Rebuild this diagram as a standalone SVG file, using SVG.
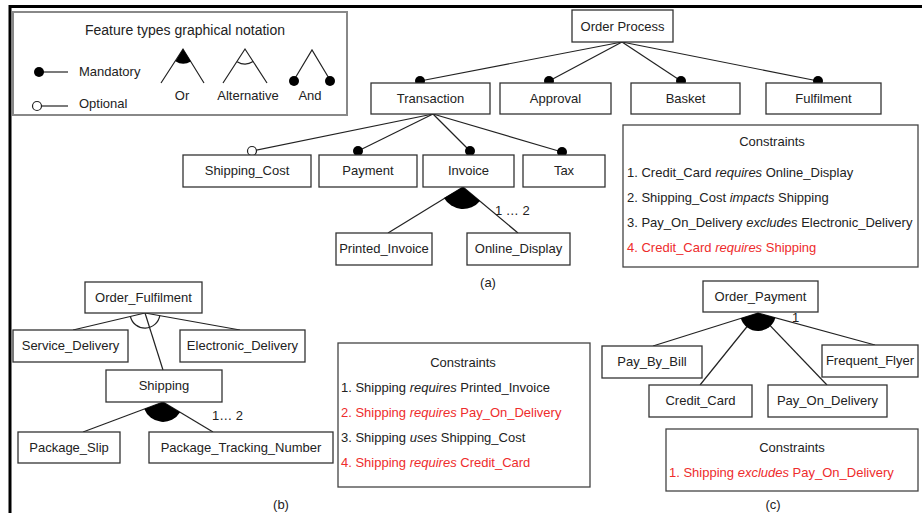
<svg xmlns="http://www.w3.org/2000/svg" width="922" height="513" viewBox="0 0 922 513">
<style>
text{font-family:"Liberation Sans",Arial,sans-serif;font-size:13px;fill:#222}
.c{text-anchor:middle}
.box{fill:#fff;stroke:#333;stroke-width:1.3}
.cbox{fill:#fff;stroke:#444;stroke-width:1.3}
.ln{stroke:#222;stroke-width:1.2;fill:none}
.dot{fill:#000}
.odot{fill:#fff;stroke:#222;stroke-width:1.2}
.red{fill:#ee2c2c}
.it{font-style:italic}
.frame{stroke:#000;stroke-width:3;fill:none}
</style>
<rect width="922" height="513" fill="#fff"/>
<path class="frame" d="M10,513 V6.5 H922"/>

<g id="legend">
<rect x="13" y="12" width="334" height="103" fill="#fff" stroke="#888" stroke-width="2"/>
<text class="c" x="185" y="35" style="font-size:14px">Feature types graphical notation</text>
<line class="ln" x1="39" y1="72" x2="68" y2="72"/>
<circle class="dot" cx="39" cy="72" r="5"/>
<text x="79" y="76">Mandatory</text>
<line class="ln" x1="42" y1="106" x2="68" y2="106"/>
<circle class="odot" cx="37" cy="106" r="4.5"/>
<text x="79" y="108">Optional</text>
<path class="ln" d="M161,83 L183,49 L204,83"/>
<path class="dot" d="M183,49 L175.4,61.3 A14.5,14.5 0 0,0 190.9,61.4 Z"/>
<text class="c" x="182" y="100">Or</text>
<path class="ln" d="M223,83 L245,49 L267,83"/>
<path class="ln" d="M237.1,61.7 A15,15 0 0,0 253.1,61.6"/>
<text class="c" x="248" y="100">Alternative</text>
<path class="ln" d="M294,80 L312,50 L330,80"/>
<circle class="dot" cx="294" cy="81" r="5"/>
<circle class="dot" cx="330" cy="81" r="5"/>
<text class="c" x="310" y="100">And</text>
</g>

<g id="connectors">
<!-- (a) -->
<line class="ln" x1="622" y1="42" x2="420" y2="81"/>
<line class="ln" x1="622" y1="42" x2="549" y2="81"/>
<line class="ln" x1="622" y1="42" x2="681" y2="81"/>
<line class="ln" x1="622" y1="42" x2="818" y2="81"/>
<line class="ln" x1="433" y1="114" x2="252" y2="151"/>
<line class="ln" x1="433" y1="114" x2="358" y2="151"/>
<line class="ln" x1="433" y1="114" x2="470" y2="151"/>
<line class="ln" x1="433" y1="114" x2="562" y2="152"/>
<line class="ln" x1="463" y1="187" x2="388" y2="233"/>
<line class="ln" x1="463" y1="187" x2="518" y2="233"/>
<path class="dot" d="M463,187 L444,198.1 A22,22 0 0,0 480,200.9 Z"/>
<!-- (b) -->
<line class="ln" x1="145" y1="313" x2="73" y2="330"/>
<line class="ln" x1="145" y1="313" x2="240" y2="330"/>
<line class="ln" x1="145" y1="313" x2="163" y2="370"/>
<path class="ln" d="M130.4,316.5 A15,15 0 0,0 159.8,315.6"/>
<line class="ln" x1="163" y1="402" x2="83" y2="432"/>
<line class="ln" x1="163" y1="402" x2="213" y2="432"/>
<path class="dot" d="M163,402 L144.3,409 A20,20 0 0,0 180.1,412.3 Z"/>
<!-- (c) -->
<line class="ln" x1="758" y1="313" x2="653" y2="346"/>
<line class="ln" x1="758" y1="313" x2="700" y2="385"/>
<line class="ln" x1="758" y1="313" x2="827" y2="385"/>
<line class="ln" x1="758" y1="313" x2="875" y2="345"/>
<path class="dot" d="M758,313 L740.8,318.2 A18,18 0 0,0 775.4,317.8 Z"/>
<!-- dots -->
<circle class="dot" cx="420" cy="81" r="5"/>
<circle class="dot" cx="549" cy="81" r="5"/>
<circle class="dot" cx="681" cy="81" r="5"/>
<circle class="dot" cx="818" cy="81" r="5"/>
<circle class="odot" cx="252" cy="151" r="4.5"/>
<circle class="dot" cx="358" cy="151" r="5"/>
<circle class="dot" cx="470" cy="151" r="5"/>
<circle class="dot" cx="562" cy="152" r="5"/>
</g>

<g id="order_process"><rect class="box" x="572" y="10" width="101" height="32"/><text class="c" x="622.5" y="31">Order Process</text></g>
<g id="transaction"><rect class="box" x="371" y="83" width="119" height="31"/><text class="c" x="430.5" y="103">Transaction</text></g>
<g id="approval"><rect class="box" x="500" y="83" width="111" height="31"/><text class="c" x="555.5" y="103">Approval</text></g>
<g id="basket"><rect class="box" x="631" y="83" width="109" height="31"/><text class="c" x="685.5" y="103">Basket</text></g>
<g id="fulfilment"><rect class="box" x="766" y="83" width="115" height="31"/><text class="c" x="823.5" y="103">Fulfilment</text></g>
<g id="shipping_cost"><rect class="box" x="183" y="155" width="128" height="32"/><text class="c" x="247" y="175">Shipping_Cost</text></g>
<g id="payment"><rect class="box" x="319" y="155" width="98" height="32"/><text class="c" x="368" y="175">Payment</text></g>
<g id="invoice"><rect class="box" x="423" y="155" width="91" height="32"/><text class="c" x="468.5" y="175">Invoice</text></g>
<g id="tax"><rect class="box" x="523" y="155" width="82" height="32"/><text class="c" x="564" y="175">Tax</text></g>
<g id="printed_invoice"><rect class="box" x="336" y="233" width="96" height="32"/><text class="c" x="384" y="253">Printed_Invoice</text></g>
<g id="online_display"><rect class="box" x="467" y="233" width="103" height="32"/><text class="c" x="518.5" y="253">Online_Display</text></g>
<text x="495" y="215">1 … 2</text>
<text class="c" x="488" y="287">(a)</text>

<g id="constraints_a">
<rect class="cbox" x="623" y="125" width="295" height="142"/>
<text class="c" x="772" y="146">Constraints</text>
<text x="627" y="177">1. Credit_Card <tspan class="it">requires</tspan> Online_Display</text>
<text x="627" y="202">2. Shipping_Cost <tspan class="it">impacts</tspan> Shipping</text>
<text x="627" y="227">3. Pay_On_Delivery <tspan class="it">excludes</tspan> Electronic_Delivery</text>
<text class="red" x="627" y="252">4. Credit_Card <tspan class="it">requires</tspan> Shipping</text>
</g>

<g id="order_fulfilment"><rect class="box" x="85" y="282" width="117" height="31"/><text class="c" x="143.5" y="302">Order_Fulfilment</text></g>
<g id="service_delivery"><rect class="box" x="13" y="330" width="115" height="32"/><text class="c" x="70.5" y="350">Service_Delivery</text></g>
<g id="electronic_delivery"><rect class="box" x="180" y="330" width="125" height="32"/><text class="c" x="242.5" y="350">Electronic_Delivery</text></g>
<g id="shipping"><rect class="box" x="106" y="370" width="116" height="32"/><text class="c" x="164" y="390">Shipping</text></g>
<g id="package_slip"><rect class="box" x="18" y="432" width="102" height="31"/><text class="c" x="69" y="452">Package_Slip</text></g>
<g id="package_tracking_number"><rect class="box" x="149" y="432" width="184" height="31"/><text class="c" x="241" y="452">Package_Tracking_Number</text></g>
<text x="212" y="420">1… 2</text>
<text class="c" x="281" y="509">(b)</text>

<g id="constraints_b">
<rect class="cbox" x="338" y="343" width="252" height="144"/>
<text class="c" x="463" y="367">Constraints</text>
<text x="341" y="392">1. Shipping <tspan class="it">requires</tspan> Printed_Invoice</text>
<text class="red" x="341" y="417">2. Shipping <tspan class="it">requires</tspan> Pay_On_Delivery</text>
<text x="341" y="442">3. Shipping <tspan class="it">uses</tspan> Shipping_Cost</text>
<text class="red" x="341" y="467">4. Shipping <tspan class="it">requires</tspan> Credit_Card</text>
</g>

<g id="order_payment"><rect class="box" x="703" y="281" width="115" height="31"/><text class="c" x="760.5" y="301">Order_Payment</text></g>
<g id="pay_by_bill"><rect class="box" x="602" y="346" width="100" height="32"/><text class="c" x="652" y="366">Pay_By_Bill</text></g>
<g id="credit_card"><rect class="box" x="649" y="385" width="103" height="32"/><text class="c" x="700.5" y="405">Credit_Card</text></g>
<g id="pay_on_delivery"><rect class="box" x="768" y="385" width="119" height="32"/><text class="c" x="827.5" y="405">Pay_On_Delivery</text></g>
<g id="frequent_flyer"><rect class="box" x="822" y="345" width="96" height="32"/><text class="c" x="870" y="365">Frequent_Flyer</text></g>
<text x="792" y="322">1</text>
<text class="c" x="773" y="509">(c)</text>

<g id="constraints_c">
<rect class="cbox" x="666" y="429" width="252" height="62"/>
<text class="c" x="792" y="452">Constraints</text>
<text class="red" x="669" y="477">1. Shipping <tspan class="it">excludes</tspan> Pay_On_Delivery</text>
</g>
</svg>
